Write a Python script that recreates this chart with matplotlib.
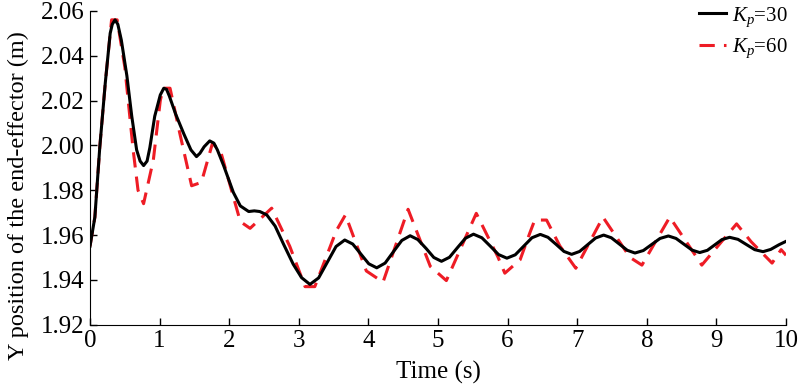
import matplotlib
matplotlib.use("Agg")
import matplotlib.pyplot as plt

plt.rcParams["font.family"] = ["Liberation Serif", "DejaVu Serif"]
plt.rcParams["mathtext.fontset"] = "custom"
plt.rcParams["mathtext.rm"] = "Liberation Serif"
plt.rcParams["mathtext.it"] = "Liberation Serif:italic"

# Kp = 30 (black, smooth)
t_kp30 = [0.00, 0.07, 0.14, 0.22, 0.29, 0.32, 0.36, 0.40, 0.45, 0.53, 0.60, 0.67, 0.72, 0.77,
          0.82, 0.86, 0.93, 1.01, 1.06, 1.10, 1.14, 1.23, 1.35, 1.45, 1.53, 1.58, 1.64, 1.72,
          1.78, 1.83, 1.92, 1.99, 2.06, 2.16, 2.28, 2.36, 2.44, 2.54, 2.66, 2.78, 2.92, 3.04,
          3.16, 3.285, 3.41, 3.535, 3.66, 3.775, 3.89, 4.005, 4.12, 4.24, 4.36, 4.48, 4.60,
          4.71, 4.83, 4.94, 5.05, 5.165, 5.28, 5.395, 5.51, 5.63, 5.75, 5.87, 5.99, 6.11, 6.23,
          6.35, 6.47, 6.58, 6.695, 6.81, 6.92, 7.035, 7.15, 7.265, 7.38, 7.49, 7.605, 7.72,
          7.83, 7.95, 8.07, 8.19, 8.31, 8.42, 8.535, 8.65, 8.76, 8.87, 8.975, 9.08, 9.19, 9.31,
          9.43, 9.55, 9.67, 9.78, 9.90, 10.00]
y_kp30 = [1.955, 1.968, 1.999, 2.028, 2.050, 2.054, 2.056, 2.054, 2.047, 2.031, 2.013, 1.998,
          1.993, 1.991, 1.993, 1.999, 2.013, 2.0225, 2.0255, 2.0250, 2.022, 2.014, 2.005, 1.998,
          1.995, 1.9965, 1.9994, 2.002, 2.0010, 1.998, 1.991, 1.985, 1.979, 1.973, 1.9705,
          1.9708, 1.9705, 1.969, 1.964, 1.956, 1.947, 1.941, 1.938, 1.9409, 1.9479, 1.9549,
          1.9578, 1.9560, 1.9516, 1.9472, 1.9454, 1.9475, 1.9526, 1.9576, 1.9597, 1.9580,
          1.9540, 1.9500, 1.9483, 1.9501, 1.9544, 1.9586, 1.9604, 1.9588, 1.9551, 1.9513,
          1.9497, 1.9512, 1.9550, 1.9588, 1.9603, 1.9590, 1.9559, 1.9527, 1.9514, 1.9527,
          1.9557, 1.9587, 1.9600, 1.9588, 1.9560, 1.9532, 1.9520, 1.9531, 1.9558, 1.9585,
          1.9596, 1.9585, 1.9559, 1.9533, 1.9522, 1.9532, 1.9556, 1.9580, 1.9590, 1.9581,
          1.9558, 1.9535, 1.9526, 1.9536, 1.9557, 1.9572]

# Kp = 60 (red dashed, piecewise)
t_kp60 = [0.00, 0.07, 0.14, 0.22, 0.31, 0.39, 0.50, 0.62, 0.69, 0.77, 0.91, 1.01, 1.05, 1.15,
          1.29, 1.46, 1.60, 1.76, 1.88, 2.06, 2.16, 2.30, 2.61, 2.87, 3.09, 3.23, 3.54, 3.67,
          3.97, 4.21, 4.57, 4.89, 5.12, 5.55, 5.86, 5.96, 6.18, 6.32, 6.39, 6.56, 6.75, 6.98,
          7.37, 7.76, 7.93, 8.33, 8.74, 8.79, 9.29, 9.50, 9.80, 9.93, 10.00]
y_kp60 = [1.955, 1.968, 1.999, 2.028, 2.056, 2.056, 2.035, 1.998, 1.980, 1.974, 1.9935, 2.020,
          2.0255, 2.0255, 2.0054, 1.982, 1.9835, 2.001, 1.997, 1.977, 1.966, 1.963, 1.972,
          1.955, 1.937, 1.937, 1.962, 1.969, 1.944, 1.939, 1.9715, 1.946, 1.9397, 1.9697,
          1.9503, 1.943, 1.949, 1.961, 1.9667, 1.9667, 1.9552, 1.9452, 1.968, 1.950, 1.9466,
          1.968, 1.949, 1.9466, 1.965, 1.957, 1.9475, 1.9535, 1.951]

x_ticks = [0, 1, 2, 3, 4, 5, 6, 7, 8, 9, 10]
y_ticks = [1.92, 1.94, 1.96, 1.98, 2.00, 2.02, 2.04, 2.06]

fig = plt.figure(figsize=(8, 3.88), dpi=100)
ax = fig.add_axes([0.1125, 0.163, 0.870, 0.809])

ax.plot(t_kp30, y_kp30, color="black", lw=2.2, label=r"$K_p$=30", zorder=3)
ax.plot(t_kp60, y_kp60, color="#ee1c25", lw=2.2, linestyle=(0, (5, 3)),
        label=r"$K_p$=60", zorder=2)

ax.set_xlim(0, 10)
ax.set_ylim(1.92, 2.06)
ax.set_xticks(x_ticks)
ax.set_yticks(y_ticks)
ax.set_yticklabels(["%.2f" % v for v in y_ticks])
ax.tick_params(direction="in", length=5, width=1, labelsize=18, pad=4)
ax.spines["top"].set_visible(False)
ax.spines["right"].set_visible(False)

ax.set_xlabel("Time (s)", fontsize=18, labelpad=6)
ax.set_ylabel("Y position of the end-effector (m)", fontsize=17.5)
ax.yaxis.set_label_coords(-0.087, 0.41)

ax.legend(loc="upper right", bbox_to_anchor=(1.015, 1.045), frameon=False, fontsize=15,
          handlelength=1.3, handletextpad=0.3, labelspacing=0.4, borderaxespad=0)

fig.savefig("out.png", dpi=100)
